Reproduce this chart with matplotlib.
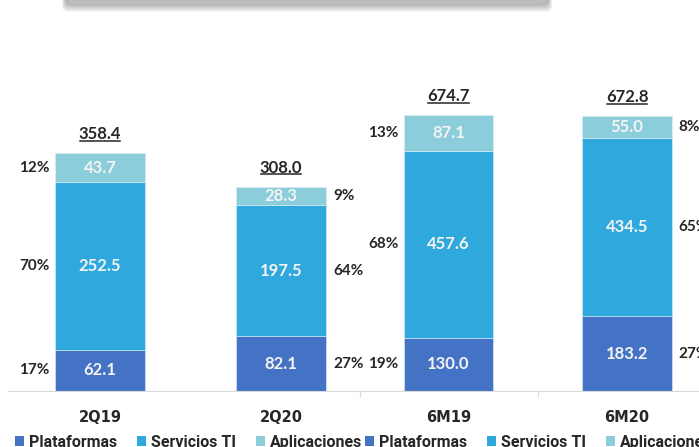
import numpy as np
import matplotlib.pyplot as plt
from matplotlib.patches import Patch, FancyBboxPatch
from matplotlib.lines import Line2D

# datos
series = ['Plataformas', 'Servicios TI', 'Aplicaciones']

quarters = ['2Q19', '2Q20']
q_plataformas = [62.1, 82.1]
q_servicios = [252.5, 197.5]
q_aplicaciones = [43.7, 28.3]
q_totales = [358.4, 308.0]
q_pct = [['17%', '70%', '12%'], ['27%', '64%', '9%']]

halves = ['6M19', '6M20']
h_plataformas = [130.0, 183.2]
h_servicios = [457.6, 434.5]
h_aplicaciones = [87.1, 55.0]
h_totales = [674.7, 672.8]
h_pct = [['19%', '68%', '13%'], ['27%', '65%', '8%']]

colors = ['#4472C4', '#2FA8DE', '#8BCDDA']
dark = '#262626'
W, H = 699, 447

fig = plt.figure(figsize=(W / 100, H / 100), dpi=100)

# caja gris con sombra arriba
for i in range(8, 0, -1):
    fig.patches.append(FancyBboxPatch((66 - i * 0.5, H - 4 - i), 482 + i, 40,
                                      boxstyle='round,pad=0,rounding_size=6',
                                      transform=None, fc='#000000', ec='none',
                                      alpha=0.04))
fig.patches.append(FancyBboxPatch((68, H - 4), 478, 40,
                                  boxstyle='round,pad=0,rounding_size=5',
                                  transform=None, fc='#BDBDBD', ec='none'))


def panel(rect, xlim, ytop, cats, segs, totales, pcts, lados):
    ax = fig.add_axes(rect)
    x = np.arange(len(cats))
    bottom = np.zeros(len(cats))
    totals_txt = []
    for k, vals in enumerate(segs):
        vals = np.array(vals)
        ax.bar(x, vals, 0.5, bottom=bottom, color=colors[k],
               edgecolor='#DDEFF7', linewidth=0.4, label=series[k])
        for i in range(len(cats)):
            ymid = bottom[i] + vals[i] / 2
            ax.text(x[i], ymid, f'{vals[i]:.1f}', ha='center', va='center',
                    color='#F4F4F4', fontsize=12, fontweight='bold',
                    family='Lato')
            if lados[i] == 'izq':
                ax.annotate(pcts[i][k], (x[i] - 0.25, ymid), xytext=(-4, 0),
                            textcoords='offset points', ha='right', va='center',
                            fontsize=11, fontweight='bold', color=dark,
                            family='Lato')
            else:
                ax.annotate(pcts[i][k], (x[i] + 0.25, ymid), xytext=(5, 0),
                            textcoords='offset points', ha='left', va='center',
                            fontsize=11, fontweight='bold', color=dark,
                            family='Lato')
        bottom += vals
    for i in range(len(cats)):
        t = ax.annotate(f'{totales[i]:.1f}', (x[i], bottom[i]), xytext=(0, 13.5),
                        textcoords='offset points', ha='center', va='center',
                        fontsize=12, fontweight='bold', color=dark,
                        family='Lato')
        totals_txt.append(t)
    ax.set_xlim(*xlim)
    ax.set_ylim(0, ytop)
    for s in ['top', 'right', 'left']:
        ax.spines[s].set_visible(False)
    ax.spines['bottom'].set_color('#D9D9D9')
    ax.spines['bottom'].set_linewidth(0.8)
    ax.set_yticks([])
    ax.set_xticks(x)
    ax.set_xticklabels(cats, fontsize=10.5, fontweight='bold', color=dark,
                       family='DejaVu Sans')
    ax.tick_params(axis='x', length=0, pad=13.5)
    ax.patch.set_alpha(0)
    return ax, totals_txt


ax1, t1 = panel([8 / W, 56 / H, 352 / W, 391 / H], (-0.508, 1.436), 589,
                quarters, [q_plataformas, q_servicios, q_aplicaciones],
                q_totales, q_pct, ['izq', 'der'])
ax2, t2 = panel([360 / W, 56 / H, 339 / W, 391 / H], (-0.496, 1.403), 956,
                halves, [h_plataformas, h_servicios, h_aplicaciones],
                h_totales, h_pct, ['izq', 'der'])
ax2.set_xticks([-0.496, 0.5], minor=True)
ax2.tick_params(axis='x', which='minor', length=4, color='#D9D9D9', width=0.8)

handles = [Patch(facecolor=c, edgecolor='none') for c in colors]
for x0 in [15, 365]:
    fig.legend(handles, series, loc='center left',
               bbox_to_anchor=(x0 / W, 4.5 / H), ncol=3, frameon=False,
               prop={'family': 'Roboto', 'size': 11.5, 'weight': 'bold'},
               labelcolor=dark, handlelength=0.56, handleheight=0.56,
               handletextpad=0.32, columnspacing=1.25, borderpad=0,
               borderaxespad=0)

# subrayado de los totales
fig.canvas.draw()
for t in t1 + t2:
    bb = t.get_window_extent()
    fig.lines.append(Line2D([bb.x0 + 1, bb.x1 - 1], [bb.y0 + 1.5, bb.y0 + 1.5],
                            transform=None, color=dark, linewidth=1.1))

fig.savefig('out.png', dpi=100)
